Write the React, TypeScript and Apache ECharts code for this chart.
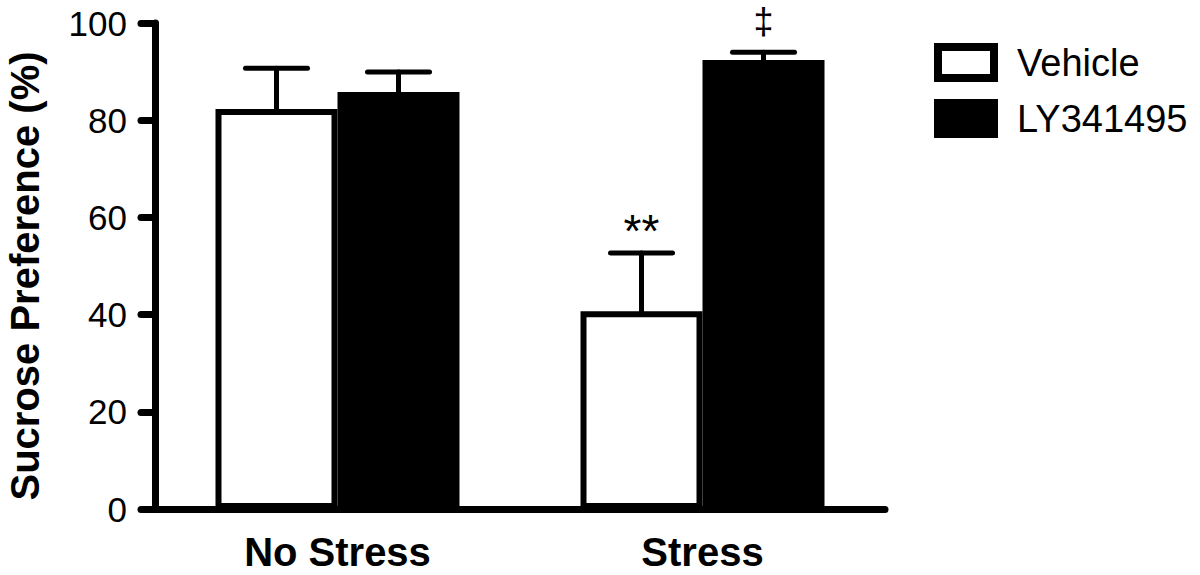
import React, { useEffect, useRef } from "react";
import * as echarts from "echarts";

const categories = ["No Stress", "Stress"];
const seriesNames = ["Vehicle", "LY341495"];
const vehicleValues = [82.3, 40.7];
const vehicleErrors = [8.4, 12.0];
const vehicleMarks = ["", "**"];
const lyValues = [85.8, 92.4];
const lyErrors = [4.1, 1.6];
const lyMarks = ["", "‡"];
const yTicks = { min: 0, max: 100, interval: 20 };

const FONT = "'Liberation Sans', Arial, Helvetica, sans-serif";
const BAR_WIDTH = 122;

function errorSeries(name: string, values: number[], errors: number[], marks: string[], offset: number) {
  return {
    type: "custom",
    name,
    z: 5,
    silent: true,
    data: values.map((v, i) => [i, v, errors[i]]),
    renderItem: (params: any, api: any) => {
      const cat = api.value(0);
      const val = api.value(1);
      const err = api.value(2);
      const base = api.coord([cat, val]);
      const top = api.coord([cat, val + err]);
      const x = base[0] + offset;
      const style = { stroke: "#000", lineWidth: 5, lineCap: "round" };
      const children: any[] = [
        { type: "line", shape: { x1: x, y1: base[1], x2: x, y2: top[1] }, style },
        { type: "line", shape: { x1: x - 31, y1: top[1], x2: x + 31, y2: top[1] }, style },
      ];
      const mark = marks[params.dataIndex];
      if (mark) {
        const isStar = mark.indexOf("*") >= 0;
        children.push({
          type: "text",
          style: isStar
            ? {
                text: mark,
                x: x,
                y: top[1] - 22,
                align: "center",
                verticalAlign: "middle",
                fill: "#000",
                font: `46px ${FONT}`,
              }
            : {
                text: mark,
                x: x,
                y: Math.max(3, top[1] - 52),
                align: "center",
                verticalAlign: "top",
                fill: "#000",
                font: `36px ${FONT}`,
              },
        });
      }
      return { type: "group", children };
    },
  };
}

export default function App() {
  const ref = useRef<HTMLDivElement>(null);
  useEffect(() => {
    if (!ref.current) return;
    const chart = echarts.init(ref.current, undefined, { renderer: "svg" });
    chart.setOption({
      animation: false,
      backgroundColor: "#fff",
      textStyle: { fontFamily: FONT, color: "#000" },
      grid: { left: 155, right: 315, top: 23, bottom: 66, containLabel: false, outerBoundsMode: "none" },
      legend: {
        data: seriesNames,
        orient: "vertical",
        left: 929,
        top: 38,
        itemWidth: 56,
        itemHeight: 31,
        itemGap: 17,
        icon: "rect",
        itemStyle: { borderColor: "#000", borderWidth: 8 },
        textStyle: { fontSize: 38, color: "#000", fontFamily: FONT, padding: [0, 0, 0, 18] },
        selectedMode: false,
      },
      xAxis: {
        type: "category",
        data: categories,
        axisLine: { lineStyle: { color: "#000", width: 7, cap: "round" } },
        axisTick: { alignWithLabel: true, length: 16, lineStyle: { color: "#000", width: 7, cap: "round" } },
        axisLabel: { fontSize: 40, fontWeight: "bold", color: "#000", margin: 23, fontFamily: FONT },
      },
      yAxis: {
        type: "value",
        min: yTicks.min,
        max: yTicks.max,
        interval: yTicks.interval,
        name: "Sucrose Preference (%)",
        nameLocation: "middle",
        nameGap: 110,
        nameTextStyle: { fontSize: 40, fontWeight: "bold", color: "#000", fontFamily: FONT, padding: [0, 20, 0, 0] },
        splitLine: { show: false },
        axisLine: { show: true, lineStyle: { color: "#000", width: 7, cap: "round" } },
        axisTick: { show: true, length: 14, lineStyle: { color: "#000", width: 7, cap: "round" } },
        axisLabel: { fontSize: 35, color: "#000", margin: 28, fontFamily: FONT },
      },
      series: [
        {
          type: "bar",
          name: seriesNames[0],
          data: vehicleValues,
          barWidth: BAR_WIDTH,
          barGap: "0%",
          itemStyle: { color: "#fff", borderColor: "#000", borderWidth: 6 },
          z: 2,
        },
        {
          type: "bar",
          name: seriesNames[1],
          data: lyValues,
          barWidth: BAR_WIDTH,
          barGap: "0%",
          itemStyle: { color: "#000", borderColor: "#000", borderWidth: 6 },
          z: 2,
        },
        errorSeries("Vehicle SEM", vehicleValues, vehicleErrors, vehicleMarks, -BAR_WIDTH / 2),
        errorSeries("LY341495 SEM", lyValues, lyErrors, lyMarks, BAR_WIDTH / 2),
      ],
    });
    return () => chart.dispose();
  }, []);
  return (
    <div
      ref={ref}
      style={{ position: "fixed", left: 0, top: 0, width: 1200, height: 575, background: "#fff" }}
    />
  );
}
